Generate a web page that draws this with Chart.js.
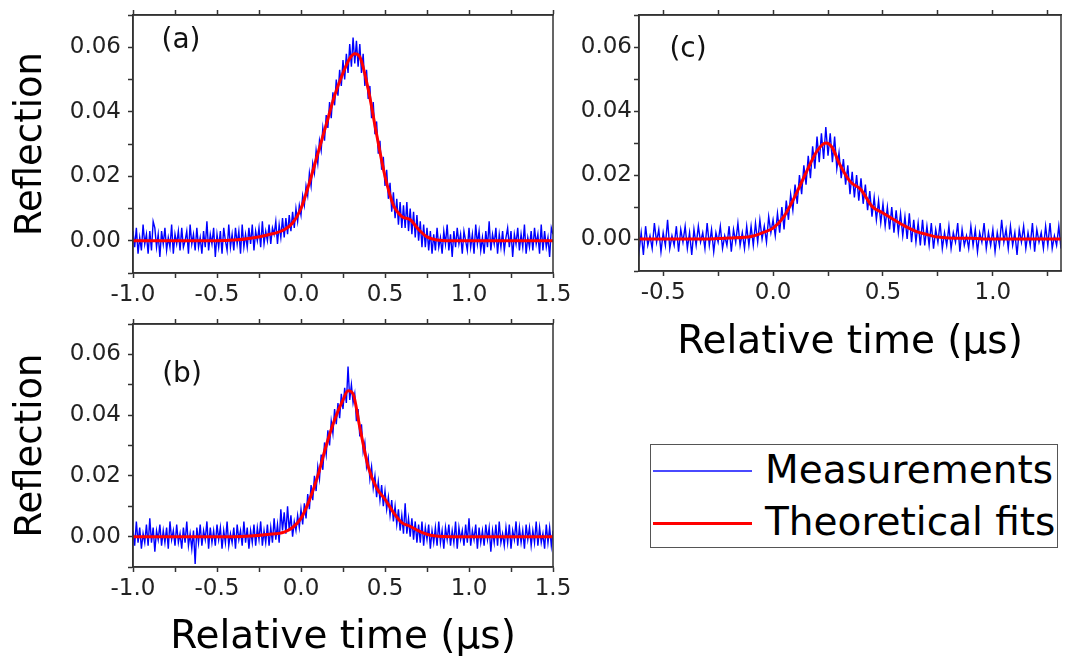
<!DOCTYPE html>
<html>
<head>
<meta charset="utf-8">
<script src="https://cdn.jsdelivr.net/npm/chart.js@4.4.1/dist/chart.umd.min.js"></script>
<style>
    html, body { margin: 0; padding: 0; background: #fff; }
    body { width: 1073px; height: 665px; position: relative; overflow: hidden; font-family: "DejaVu Sans", sans-serif; }
    canvas { position: absolute; }
    #legend { position: absolute; left: 650px; top: 444px; width: 408px; height: 104px; box-sizing: border-box; border: 1.5px solid #555; }
    #legend .swatch { position: absolute; left: 2px; width: 99px; }
    #legend .txt { position: absolute; left: 114px; font-size: 39px; line-height: 39px; color: #000; white-space: nowrap; }
</style>
</head>
<body>
<canvas id="chartA" width="570" height="310" style="left:0;top:0"></canvas>
<canvas id="chartB" width="570" height="355" style="left:0;top:310px"></canvas>
<canvas id="chartC" width="503" height="370" style="left:570px;top:0"></canvas>
<div id="legend">
    <div class="swatch" style="top:25px;height:1.5px;background:#4a4aff"></div>
    <div class="txt" style="top:5px">Measurements</div>
    <div class="swatch" style="top:77px;height:3px;background:#ff0000"></div>
    <div class="txt" style="top:57px">Theoretical fits</div>
</div>
<script>
// reflection values are in units of 1e-3
const FONT = '"DejaVu Sans", sans-serif';

// measurements sampled every 0.01 us, one row per 0.1 us
const sampleStep = 0.01;

const measStartA = -1.0;
const measA = [
    3, -2, 4, -4, 1, -3, 5, -1, 2, -4,
    3, -3, 6, 4, -2, 2, -5, 3, -1, 4,
    -3, 1, -2, 5, -4, 2, -1, 3, -3, 4,
    -2, 0, 3, -4, 5, -1, 2, -3, 4, -2,
    1, -4, 3, -2, 6, -3, 2, -1, 4, -5,
    2, -2, 3, -4, 4, 0, -3, 5, -2, 2,
    -3, 4, -1, 3, -4, 5, -2, 2, -2, 4,
    -1, 5, -3, 3, 0, 4, -2, 6, -1, 3,
    0, 5, -1, 4, 2, 6, -1, 5, 1, 7,
    1, 7, 2, 8, 3, 9, 4, 10, 6, 11,
    8, 14, 11, 17, 14, 21, 17, 24, 21, 28,
    24, 31, 28, 35, 31, 39, 35, 43, 38, 46,
    42, 50, 45, 53, 48, 56, 50, 58, 52, 61,
    54, 63, 55, 62, 54, 61, 52, 58, 48, 53,
    44, 48, 38, 43, 33, 37, 27, 31, 22, 26,
    17, 22, 13, 18, 9, 15, 7, 13, 5, 12,
    4, 11, 4, 12, 3, 10, 2, 9, 1, 8,
    0, 6, -2, 5, -2, 4, -3, 3, -4, 2,
    -3, 4, -2, 1, -4, 3, -1, 5, -3, 2,
    -5, 3, -2, 4, -1, 2, -4, 3, 0, -3,
    4, -2, 2, -4, 5, -1, 3, -3, 1, -4,
    3, -2, 6, -3, 2, -1, 4, -4, 2, -2,
    3, -3, 1, 4, -2, 3, -5, 2, -1, 4,
    -3, 2, -2, 5, -4, 1, -2, 3, -3, 4,
    -1, 2, -4, 5, -3, 3, -2, 1, -5, 4,
    2
];
const fitTimeA = [-1.0, -0.5, -0.4, -0.3, -0.2, -0.1, -0.05, 0.0, 0.05, 0.1, 0.15, 0.2, 0.25, 0.29, 0.32, 0.35, 0.4, 0.45, 0.5, 0.55, 0.6, 0.65, 0.7, 0.75, 0.8, 0.9, 1.5];
const fitA = [0, 0, 0.2, 0.8, 1.8, 3.4, 5.5, 10, 18, 27, 36, 45, 52, 56.5, 58, 57, 47, 33, 20, 11, 7.5, 6.5, 3.5, 1.2, 0.3, 0, 0];

const measStartB = -1.0;
const measB = [
    2, -3, 5, -2, 3, -4, 1, -2, 4, -3,
    6, -2, 3, -5, 2, -1, 4, -3, 2, -2,
    3, -4, 5, -1, 2, -3, 4, -2, 1, -4,
    3, -2, 5, -3, 1, -4, 2, -9, 3, -2,
    4, -3, 2, -1, 5, -4, 3, -2, 2, -3,
    4, -1, 3, -4, 2, -2, 5, -3, 1, -2,
    3, -4, 4, -1, 2, -3, 5, -2, 3, -4,
    2, -2, 4, -3, 3, -1, 5, -3, 2, -2,
    4, -3, 3, -2, 6, -1, 4, -2, 9, 2,
    8, 1, 10, 2, 7, 0, 5, 2, 7, 3,
    9, 4, 11, 6, 14, 9, 17, 12, 20, 15,
    23, 19, 27, 22, 31, 27, 35, 30, 38, 34,
    42, 37, 44, 39, 47, 42, 49, 44, 56, 45,
    50, 44, 47, 38, 42, 33, 37, 28, 31, 23,
    26, 19, 23, 16, 20, 13, 18, 12, 17, 10,
    15, 9, 13, 7, 12, 5, 10, 4, 9, 2,
    7, 1, 11, 1, 6, 0, 6, -1, 5, -2,
    4, -2, 5, -3, 3, -1, 4, -4, 2, -2,
    3, -3, 5, -2, 2, -4, 3, -1, 4, -3,
    2, -2, 5, -4, 3, -1, 2, -3, 4, -2,
    6, -3, 2, -1, 4, -4, 3, -2, 2, -3,
    4, -1, 3, -5, 2, -2, 4, -3, 5, -2,
    1, -3, 3, -2, 4, -4, 2, -1, 5, -3,
    3, -2, 2, -4, 4, -1, 3, -3, 2, -2,
    5, -3, 3, -2, 1, -4, 4, -2, 3, -3,
    2
];
const fitTimeB = [-1.0, -0.4, -0.3, -0.2, -0.1, -0.05, 0.0, 0.05, 0.1, 0.15, 0.2, 0.25, 0.28, 0.31, 0.35, 0.4, 0.45, 0.5, 0.55, 0.6, 0.65, 0.7, 0.75, 0.8, 0.9, 1.5];
const fitB = [0, 0, 0.2, 0.7, 1.5, 3, 6, 12, 20, 30, 38.5, 45, 48, 47, 36, 23, 16, 12.3, 8, 4.6, 3.4, 1.9, 0.8, 0.2, 0, 0];

const measStartC = -0.62;
const measC = [
    3, -4,
    2, -5, 4, -2, 1, -3, 5, -1, 3, -4,
    2, -2, 6, -3, 1, -2, 4, -4, 3, -1,
    4, -3, 2, -5, 3, -2, 4, -1, 2, -3,
    5, -2, 3, -4, 2, -1, 4, -3, 1, -2,
    4, -4, 3, -1, 5, -2, 2, -3, 4, -2,
    4, -2, 5, -1, 6, 0, 4, -1, 7, 2,
    6, 1, 8, 2, 10, 3, 12, 6, 14, 9,
    17, 11, 20, 14, 23, 17, 26, 19, 29, 22,
    32, 24, 33, 25, 35, 26, 33, 24, 32, 22,
    27, 19, 25, 17, 23, 14, 21, 13, 20, 12,
    19, 11, 17, 9, 15, 7, 13, 6, 12, 5,
    11, 4, 10, 3, 10, 2, 9, 2, 8, 1,
    7, 0, 8, -1, 6, -1, 5, -2, 6, -2,
    4, -2, 5, -3, 3, -1, 5, -3, 2, -2,
    4, -3, 2, -1, 5, -4, 3, -2, 1, -3,
    4, -2, 3, -4, 2, -1, 5, -3, 2, -2,
    3, -4, 2, -2, 6, -1, 3, -3, 4, -2,
    2, -5, 3, -1, 4, -3, 2, -2, 5, -4,
    3, -1, 2, -3, 4, -2, 5, -3, 1, -2,
    4, -3, 2
];
const fitTimeC = [-0.61, -0.3, -0.2, -0.1, -0.05, 0.0, 0.05, 0.1, 0.15, 0.2, 0.24, 0.27, 0.3, 0.35, 0.4, 0.45, 0.5, 0.55, 0.6, 0.65, 0.7, 0.75, 0.8, 0.9, 1.0, 1.31];
const fitC = [0, 0, 0.3, 0.8, 1.9, 3.4, 7.1, 13.4, 20.7, 27.5, 30, 28.5, 23.8, 18, 15.4, 10.2, 8.1, 6, 4, 2.4, 1.4, 0.6, 0.3, 0.2, 0, 0];

const measPoints = (start, values) => values.map((v, i) => ({x: start + i * sampleStep, y: v / 1000}));
const fitPoints = (times, values) => values.map((v, i) => ({x: times[i], y: v / 1000}));

const framePlugin = {
    id: 'frame',
    afterDraw: (chart) => {
        const {ctx, chartArea} = chart;
        ctx.save();
        ctx.strokeStyle = '#333';
        ctx.lineWidth = 1.5;
        ctx.strokeRect(chartArea.left, chartArea.top, chartArea.right - chartArea.left, chartArea.bottom - chartArea.top);
        ctx.restore();
    }
};

const panelTagPlugin = {
    id: 'panelTag',
    afterDraw: (chart, args, opts) => {
        const {ctx, chartArea} = chart;
        ctx.save();
        ctx.font = '28px ' + FONT;
        ctx.fillStyle = '#111';
        ctx.textAlign = 'center';
        ctx.textBaseline = 'middle';
        ctx.fillText(opts.text, chartArea.left + opts.dx, chartArea.top + opts.dy);
        ctx.restore();
    }
};

const tickGrid = {
    drawOnChartArea: false,
    drawTicks: true,
    tickLength: 5,
    tickColor: '#333',
    tickWidth: 1.5
};

const makePanel = (id, cfg) => {
    const ctx = document.getElementById(id).getContext('2d');

    return new Chart(ctx, {
        type: 'line',
        data: {
            datasets: [{
                label: 'Theoretical fits',
                data: cfg.fit,
                borderColor: '#ff0000',
                borderWidth: 3,
                pointRadius: 0,
                cubicInterpolationMode: 'monotone',
                order: 0
            }, {
                label: 'Measurements',
                data: cfg.meas,
                borderColor: '#0000ff',
                borderWidth: 1.4,
                pointRadius: 0,
                tension: 0,
                order: 1
            }]
        },
        options: {
            responsive: false,
            devicePixelRatio: 1,
            animation: false,
            events: [],
            layout: {
                autoPadding: false,
                padding: {top: cfg.top, right: cfg.right, left: 0, bottom: 0}
            },
            plugins: {
                legend: {display: false},
                tooltip: {enabled: false},
                panelTag: cfg.tag
            },
            scales: {
                x: {
                    type: 'linear',
                    position: 'bottom',
                    min: cfg.xMin,
                    max: cfg.xMax,
                    grid: tickGrid,
                    border: {color: '#333', width: 1.5},
                    ticks: {
                        stepSize: 0.25,
                        autoSkip: false,
                        includeBounds: false,
                        maxRotation: 0,
                        padding: 3,
                        color: '#222',
                        font: {family: FONT, size: 23},
                        callback: (v) => Math.round(v * 4) % 2 === 0 ? v.toFixed(1) : ''
                    },
                    title: {
                        display: cfg.xTitle,
                        text: 'Relative time (μs)',
                        color: '#000',
                        font: {family: FONT, size: 39},
                        padding: {top: 4, bottom: 4}
                    },
                    afterFit: (s) => {
                        s.height = cfg.xHeight;
                        s.paddingLeft = 0;
                        s.paddingRight = 0;
                    }
                },
                xTop: {
                    type: 'linear',
                    position: 'top',
                    min: cfg.xMin,
                    max: cfg.xMax,
                    grid: tickGrid,
                    border: {color: '#333', width: 1.5},
                    ticks: {display: false, stepSize: 0.25, includeBounds: false},
                    afterFit: (s) => {
                        s.height = 0;
                        s.paddingLeft = 0;
                        s.paddingRight = 0;
                    }
                },
                y: {
                    type: 'linear',
                    position: 'left',
                    min: -0.01,
                    max: 0.07,
                    grid: tickGrid,
                    border: {color: '#333', width: 1.5},
                    ticks: {
                        stepSize: 0.01,
                        autoSkip: false,
                        includeBounds: false,
                        padding: cfg.yPad,
                        color: '#222',
                        font: {family: FONT, size: 23},
                        callback: (v) => Math.round(v * 100) % 2 === 0 ? v.toFixed(2) : ''
                    },
                    title: {
                        display: cfg.yTitle,
                        text: 'Reflection',
                        color: '#000',
                        font: {family: FONT, size: 37},
                        padding: {top: 9, bottom: 0}
                    },
                    afterFit: (s) => {
                        s.width = cfg.yWidth;
                        s.paddingTop = 0;
                        s.paddingBottom = 0;
                    }
                }
            }
        },
        plugins: [framePlugin, panelTagPlugin]
    });
}

makePanel('chartA', {
    meas: measPoints(measStartA, measA),
    fit: fitPoints(fitTimeA, fitA),
    xMin: -1.0, xMax: 1.5,
    top: 15, right: 17, xHeight: 37, yWidth: 133, yPad: 7,
    xTitle: false, yTitle: true,
    tag: {text: '(a)', dx: 48, dy: 26}
});

makePanel('chartB', {
    meas: measPoints(measStartB, measB),
    fit: fitPoints(fitTimeB, fitB),
    xMin: -1.0, xMax: 1.5,
    top: 14, right: 17, xHeight: 98, yWidth: 133, yPad: 7,
    xTitle: true, yTitle: true,
    tag: {text: '(b)', dx: 49, dy: 51}
});

makePanel('chartC', {
    meas: measPoints(measStartC, measC),
    fit: fitPoints(fitTimeC, fitC),
    xMin: -0.61, xMax: 1.31,
    top: 15, right: 12, xHeight: 99, yWidth: 69, yPad: 2,
    xTitle: true, yTitle: false,
    tag: {text: '(c)', dx: 49, dy: 35}
});
</script>
</body>
</html>
